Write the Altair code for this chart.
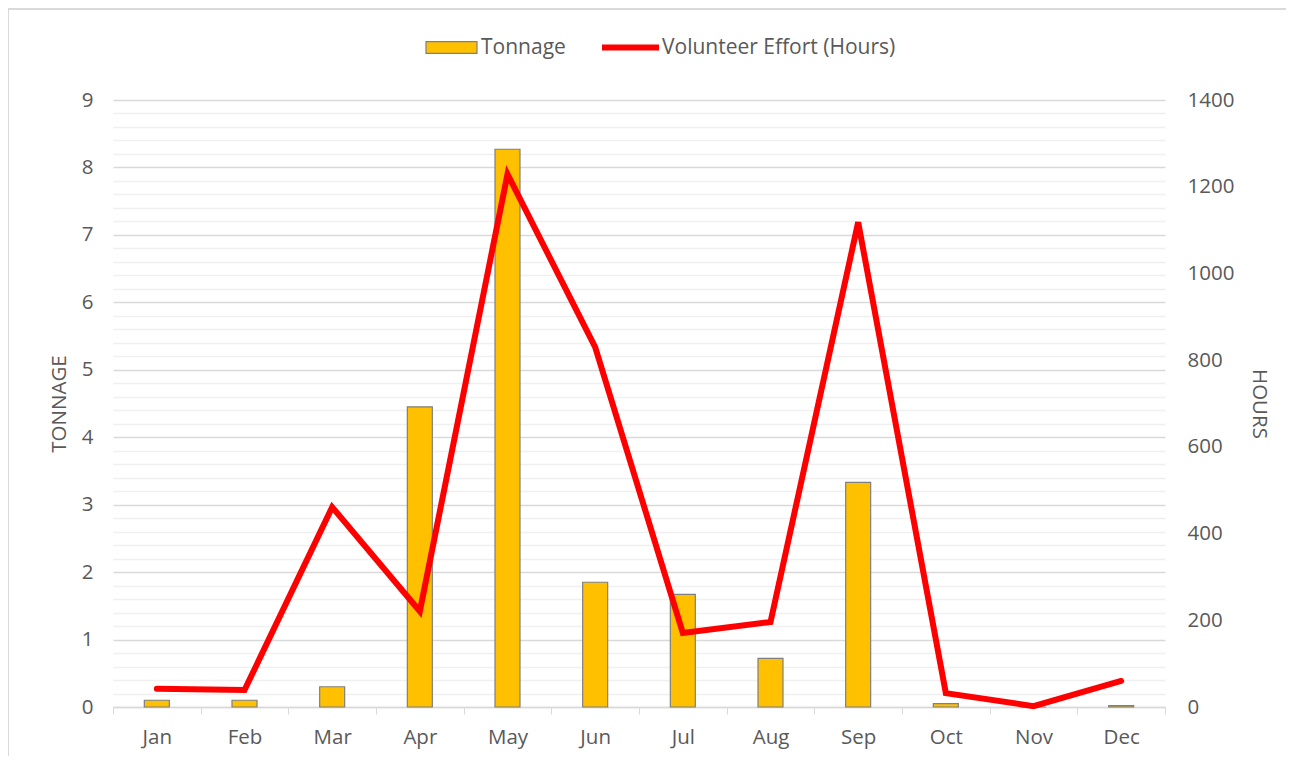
import altair as alt
import pandas as pd

months = ["Jan", "Feb", "Mar", "Apr", "May", "Jun", "Jul", "Aug", "Sep", "Oct", "Nov", "Dec"]
tonnage = [0.1, 0.1, 0.3, 4.45, 8.27, 1.85, 1.67, 0.72, 3.33, 0.05, 0.0, 0.02]
hours = [42, 39, 461, 221, 1229, 830, 171, 196, 1118, 32, 2, 60]
tonnage_ticks = [round(i * 0.2, 1) for i in range(46)]
hours_ticks = [0, 200, 400, 600, 800, 1000, 1200, 1400]

df = pd.DataFrame({
    "month": months,
    "tonnage": tonnage,
    "hours": hours,
    "s_bar": ["Tonnage"] * 12,
    "s_line": ["Volunteer Effort (Hours)"] * 12,
})

FONT = "Open Sans"
TXT = "#595959"
FS = 20.5
LFS = 21

x_enc = alt.X(
    "month:N", sort=months, title=None,
    scale=alt.Scale(paddingInner=0, paddingOuter=0),
    axis=alt.Axis(
        tickBand="extent", tickSize=7, tickColor="#d9d9d9", domainColor="#d9d9d9",
        domainWidth=1.5, labelAngle=0, labelFontSize=FS, labelColor=TXT, labelFont=FONT,
        labelPadding=13, grid=False,
    ),
)

bars = alt.Chart(df).mark_bar(size=25, stroke="#7f7f7f", strokeWidth=1.2).encode(
    x=x_enc,
    y=alt.Y(
        "tonnage:Q", title="TONNAGE",
        scale=alt.Scale(domain=[0, 9], nice=False),
        axis=alt.Axis(
            values=tonnage_ticks,
            labelExpr="datum.value % 1 === 0 ? format(datum.value, 'd') : ''",
            gridColor={"condition": {"test": "datum.value % 1 === 0", "value": "#d9d9d9"}, "value": "#f0f0f0"},
            gridWidth=1.3, ticks=False, domain=False,
            labelFontSize=FS, labelColor=TXT, labelFont=FONT, labelPadding=20,
            titleFontSize=FS, titleFontWeight="normal", titleColor=TXT, titleFont=FONT,
            titlePadding=12,
        ),
    ),
    color=alt.Color(
        "s_bar:N", title=None,
        scale=alt.Scale(domain=["Tonnage"], range=["#FFC000"]),
        legend=alt.Legend(
            orient="none", legendX=312, legendY=-79, padding=0,
            symbolType="M-1,-0.23H1V0.23H-1Z", symbolSize=2601,
            symbolStrokeColor="#7f7f7f", symbolStrokeWidth=1.2, symbolOpacity=1,
            labelFontSize=LFS, labelColor=TXT, labelFont=FONT, labelOffset=3, labelLimit=400,
        ),
    ),
)

line = alt.Chart(df).mark_line(strokeWidth=6, strokeCap="round", strokeJoin="miter").encode(
    x=alt.X("month:N", sort=months),
    y=alt.Y(
        "hours:Q", title="HOURS",
        scale=alt.Scale(domain=[0, 1400], nice=False),
        axis=alt.Axis(
            orient="right", values=hours_ticks, format="d", grid=False, ticks=False, domain=False,
            labelFontSize=FS, labelColor=TXT, labelFont=FONT, labelPadding=22,
            titleFontSize=FS, titleFontWeight="normal", titleColor=TXT, titleFont=FONT,
            titlePadding=15,
        ),
    ),
    stroke=alt.Stroke(
        "s_line:N", title=None,
        scale=alt.Scale(domain=["Volunteer Effort (Hours)"], range=["#FF0000"]),
        legend=alt.Legend(
            orient="none", legendX=486, legendY=-84, padding=0,
            symbolType="stroke", symbolSize=3249, symbolStrokeWidth=6,
            labelFontSize=LFS, labelColor=TXT, labelFont=FONT, labelOffset=0, labelLimit=400,
        ),
    ),
)

border_top = alt.Chart(df).mark_rule(stroke="#d9d9d9", strokeWidth=2, clip=False).encode(
    x=alt.value(-105), x2=alt.value(3000), y=alt.value(-91)
)
border_left = alt.Chart(df).mark_rule(stroke="#d9d9d9", strokeWidth=2, clip=False).encode(
    x=alt.value(-105), y=alt.value(-91), y2=alt.value(3000)
)

chart = (
    alt.layer(bars, line, border_top, border_left)
    .resolve_scale(y="independent", color="independent", stroke="independent")
    .properties(
        width=1052, height=607,
        autosize=alt.AutoSizeParams(type="none"),
        padding={"left": 105, "top": 92, "right": 121, "bottom": 49},
    )
    .configure_view(stroke=None)
)

chart.save("out.html", embed_options={"renderer": "svg", "actions": False})
